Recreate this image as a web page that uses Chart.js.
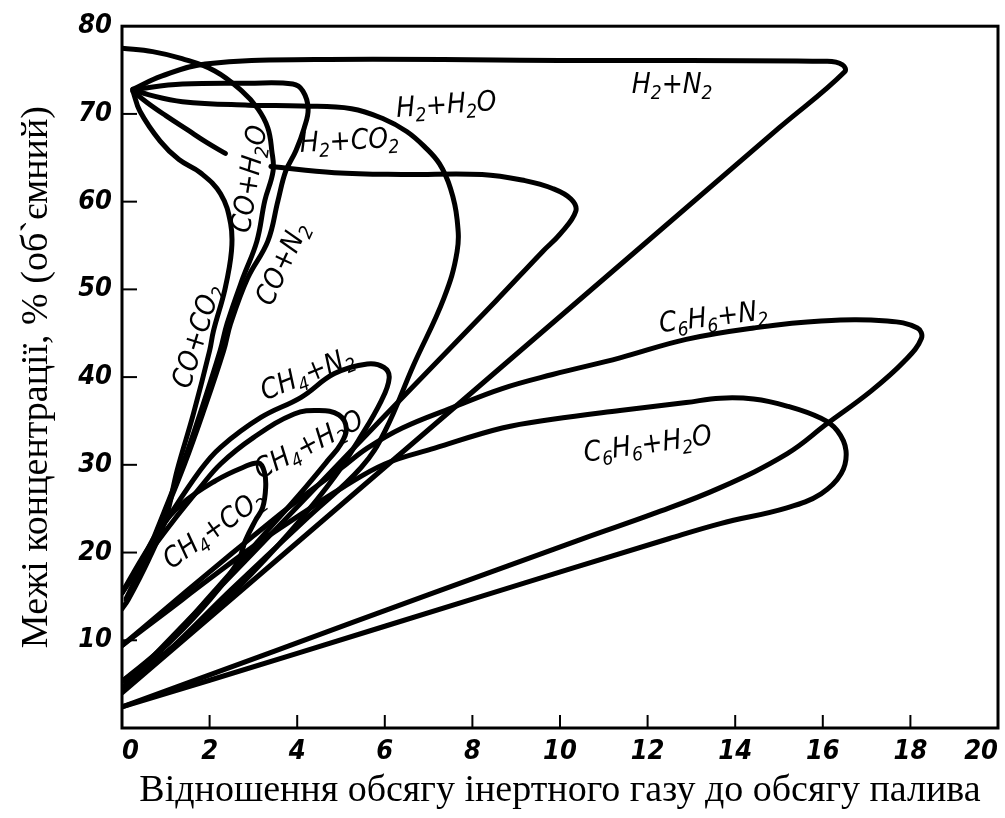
<!DOCTYPE html>
<html>
<head>
<meta charset="utf-8">
<script src="https://cdn.jsdelivr.net/npm/chart.js@4.4.0/dist/chart.umd.min.js"></script>
<style>
  html, body { margin: 0; padding: 0; background: #fff; }
</style>
</head>
<body>
<canvas id="chart" width="1005" height="818"></canvas>
<script>
/* =================================================================
    Data: [ratio inert/fuel, limit %]
================================================================= */

var xTicks = [0, 2, 4, 6, 8, 10, 12, 14, 16, 18, 20];
var yTicks = [10, 20, 30, 40, 50, 60, 70, 80];

var h2n2 = [[0.25, 72.8], [0.9, 74.3], [1.9, 75.7], [4.4, 76.2], [10, 76.1], [16.1, 76.0],
    [16.45, 75.6], [16.5, 74.8], [15, 68.4], [8, 38.3], [0, 4.0]];

var h2h2o = [[0.25, 72.8], [0.6, 72.2], [1.38, 71.4], [2.89, 71.0], [4.09, 70.9], [5.24, 70.6],
    [5.99, 69.4], [6.5, 68.0], [6.9, 66.3], [7.25, 64.3], [7.5, 61.5], [7.65, 58], [7.65, 54.3],
    [7.35, 49], [6.65, 41.3], [6.0, 33.8], [5.46, 29.7], [4.2, 23.8], [2.5, 15.8], [1, 8.5], [0, 4.3]];

var h2co2 = [[0.25, 72.6], [0.57, 71.3], [1.0, 69.8], [1.49, 68.2], [1.95, 66.7], [2.36, 65.5],
    [2.9, null], [3.4, 64.0], [4.85, 63.3], [6.38, 63.1], [8.22, 63.1], [9.2, 62.4], [9.83, 61.5],
    [10.25, 60.3], [10.36, 58.9], [10.0, 56.3], [9.6, 54.3], [8.52, 48.6], [6, 35.6], [3, 20], [0, 4.5]];

var coh2o = [[0, 77.5], [0.7, 77.1], [1.37, 76.3], [2.12, 74.9], [2.74, 72.6], [3.1, 70.6],
    [3.33, 68.4], [3.42, 65.8], [3.45, 63.5], [3.26, 60.1], [3.08, 55.5], [2.76, 51.3],
    [2.4, 46.1], [2.24, 43], [1.78, 35.8], [1.39, 30.1], [0.95, 24.5], [0.5, 19], [0.1, 14.8]];

var con2 = [[0.25, 72.8], [1.38, 73.4], [2.89, 73.5], [3.9, 73.4], [4.13, 72.6], [4.25, 70.6],
    [4.16, 68.4], [3.97, 65.8], [3.74, 63.5], [3.56, 60.1], [3.33, 55.5], [2.87, 51.3],
    [2.48, 46.1], [2.32, 43], [1.84, 35.8], [1.43, 30.1], [0.98, 24.5], [0.52, 19], [0.1, 14.6]];

var coco2 = [[0.25, 72.6], [0.41, 70.3], [0.87, 66.9], [1.3, 64.8], [1.79, 63.3], [2.25, 60.9],
    [2.48, 57.5], [2.5, 54.4], [2.35, 50], [2.09, 45.3], [2.0, 43], [1.63, 35.8], [1.26, 29.4],
    [0.99, 23.7], [0.6, 19.1], [0.14, 14.6], [0, 13.6]];

var ch4n2 = [[0, 15.4], [0.45, 19.3], [0.9, 22.8], [1.79, 29.4], [2.25, 32.0], [3.17, 35.4],
    [4.09, 37.7], [4.85, 40.4], [5.6, 41.5], [5.98, 41.1], [6.1, 39.9], [5.92, 37.3],
    [5.4, 32.8], [4.85, 28.6], [4, 23.3], [3, 17.8], [2, 12.8], [1, 8.6], [0, 5.3]];

var ch4h2o = [[0, 15.4], [0.6, 19.8], [1.2, 23.8], [1.75, 27.2], [2.25, 30.1], [3.0, 33.1],
    [3.93, 35.8], [4.5, 36.2], [4.95, 35.7], [5.12, 34.2], [5.0, 32.4], [4.7, 30.5],
    [4.2, 27.5], [3.2, 21.8], [2, 15], [1, 9.5], [0, 5.3]];

var ch4co2 = [[0, 15.4], [0.4, 18.6], [0.83, 22.5], [1.38, 25.6], [2.14, 28.2], [2.76, 29.7],
    [3.12, 30.2], [3.25, 29.2], [3.28, 27.4], [3.21, 25.1], [3.05, 23.7], [2.82, 21.4],
    [2.66, 19.1], [2.2, 15.8], [1.4, 11.3], [0.7, 8], [0, 5.3]];

var c6h6n2 = [[0, 9.4], [1, 13.6], [2, 17.8], [3, 21.9], [4, 25.9], [5, 29.6], [5.6, 31.9],
    [6.4, 34.2], [7.53, 36.5], [8.68, 38.7], [9.83, 40.3], [11.37, 42.2], [12.88, 44.3],
    [14.42, 45.6], [15.96, 46.4], [17.47, 46.4], [18.16, 45.6], [18.25, 44.4], [17.86, 41.8],
    [17.1, 38.4], [16.1, 34.7], [15.18, 31.25], [13.66, 27.4], [12.12, 24.4], [10.59, 21.7],
    [7, 15.2], [3.5, 8.8], [0, 2.4]];

var c6h6h2o = [[0, 9.4], [1, 13.2], [2, 17], [3, 20.7], [4.1, 24.4], [5, 27.3], [6, 30.1],
    [7.14, 31.9], [8.68, 34.2], [9.83, 35.2], [11.37, 36.2], [12.88, 37.1], [13.66, 37.6],
    [14.42, 37.5], [15.18, 36.7], [15.96, 35.3], [16.33, 33.9], [16.53, 31.6], [16.42, 29],
    [15.96, 26.7], [15.18, 25.1], [13.66, 23.3], [12.5, 21.6], [8, 14.7], [4, 8.5], [0, 2.4]];

var curves = [h2n2, h2h2o, h2co2, coh2o, con2, coco2, ch4n2, ch4h2o, ch4co2, c6h6n2, c6h6h2o];

var labelText = ['H2+N2', 'H2+H2O', 'H2+CO2', 'CO+H2O', 'CO+N2', 'CO+CO2',
    'CH4+N2', 'CH4+H2O', 'CH4+CO2', 'C6H6+N2', 'C6H6+H2O'];
var labelX = [12.56, 7.4, 5.19, 2.88, 3.63, 1.68, 4.22, 4.25, 2.08, 13.5, 12.0];
var labelY = [73.5, 71.2, 67.1, 62.6, 53.0, 44.7, 40.5, 32.4, 22.8, 47.0, 32.5];
var labelRot = [0, -4, -3, -81, -65, -73, -22, -27, -35, -7, -8];

/* =================================================================
    Frame, inner ticks and formula labels
================================================================= */

var FORMULA_FONT = '"DejaVu Sans Condensed", "DejaVu Sans", sans-serif';

function drawFormula(ctx, text, x, y, rot) {
    var big = 'italic 28px ' + FORMULA_FONT;
    var small = 'italic 19px ' + FORMULA_FONT;
    var parts = [];
    var w = 0;
    for (var i = 0; i < text.length; i++) {
        var sub = /[0-9]/.test(text[i]);
        ctx.font = sub ? small : big;
        var cw = ctx.measureText(text[i]).width;
        parts.push({ ch: text[i], sub: sub, w: cw });
        w += cw;
    }
    ctx.save();
    ctx.translate(x, y);
    ctx.rotate(rot * Math.PI / 180);
    ctx.fillStyle = '#000';
    ctx.textBaseline = 'alphabetic';
    var cx = -w / 2;
    parts.forEach(function (p) {
        ctx.font = p.sub ? small : big;
        ctx.fillText(p.ch, cx, p.sub ? 16 : 10);
        cx += p.w;
    });
    ctx.restore();
}

var inkPlugin = {
    id: 'ink',
    afterDraw: function (chart) {
        var ctx = chart.ctx;
        var a = chart.chartArea;
        var xs = chart.scales.x;
        var ys = chart.scales.y;
        ctx.save();
        ctx.strokeStyle = '#000';
        ctx.lineWidth = 3;
        ctx.strokeRect(a.left, a.top, a.right - a.left, a.bottom - a.top);

        ctx.lineWidth = 2;
        xTicks.forEach(function (v) {
            if (v <= 0 || v >= 20) return;
            var px = xs.getPixelForValue(v);
            ctx.beginPath();
            ctx.moveTo(px, a.bottom);
            ctx.lineTo(px, a.bottom - 13);
            ctx.stroke();
        });
        yTicks.forEach(function (v) {
            if (v >= 80) return;
            var py = ys.getPixelForValue(v);
            ctx.beginPath();
            ctx.moveTo(a.left, py);
            ctx.lineTo(a.left + 15, py);
            ctx.stroke();
        });

        for (var i = 0; i < labelText.length; i++) {
            drawFormula(ctx, labelText[i], xs.getPixelForValue(labelX[i]),
                ys.getPixelForValue(labelY[i]), labelRot[i]);
        }
        ctx.restore();
    }
};

/* =================================================================
    Chart
================================================================= */

var tickFont = { family: FORMULA_FONT, size: 27, style: 'italic', weight: 'bold' };
var titleFont = { family: '"Liberation Serif", "Times New Roman", serif', size: 38 };

var myChart = new Chart(document.getElementById('chart'), {
    type: 'scatter',
    data: {
        datasets: curves.map(function (c) {
            return {
                data: c.map(function (p) { return { x: p[0], y: p[1] }; }),
                showLine: true,
                borderColor: '#000',
                borderWidth: 5,
                tension: 0.4,
                pointRadius: 0,
                borderCapStyle: 'round',
                borderJoinStyle: 'round',
                spanGaps: false
            };
        })
    },
    options: {
        responsive: false,
        animation: false,
        layout: { padding: { top: 25, right: 7, left: 0, bottom: 0 } },
        plugins: { legend: { display: false }, tooltip: { enabled: false } },
        scales: {
            x: {
                type: 'linear', min: 0, max: 20,
                afterFit: function (s) { s.height = 90; s.paddingLeft = 0; s.paddingRight = 0; },
                grid: { display: false, drawTicks: false },
                border: { display: false },
                afterBuildTicks: function (s) { s.ticks = xTicks.map(function (v) { return { value: v }; }); },
                ticks: { padding: 8, color: '#000', font: tickFont, maxRotation: 0, autoSkip: false, align: 'inner' },
                title: {
                    display: true, color: '#000', font: titleFont, padding: { top: 0, bottom: 4 },
                    text: 'Відношення обсягу інертного газу до обсягу палива'
                }
            },
            y: {
                type: 'linear', min: 0, max: 80,
                afterFit: function (s) { s.width = 122; },
                grid: { display: false, drawTicks: false },
                border: { display: false },
                afterBuildTicks: function (s) { s.ticks = yTicks.map(function (v) { return { value: v }; }); },
                ticks: { padding: 10, color: '#000', font: tickFont },
                title: {
                    display: true, color: '#000', font: titleFont, padding: { top: 14, bottom: 0 },
                    text: 'Межі концентрації, % (об`ємний)'
                }
            }
        }
    },
    plugins: [inkPlugin]
});
</script>
</body>
</html>
